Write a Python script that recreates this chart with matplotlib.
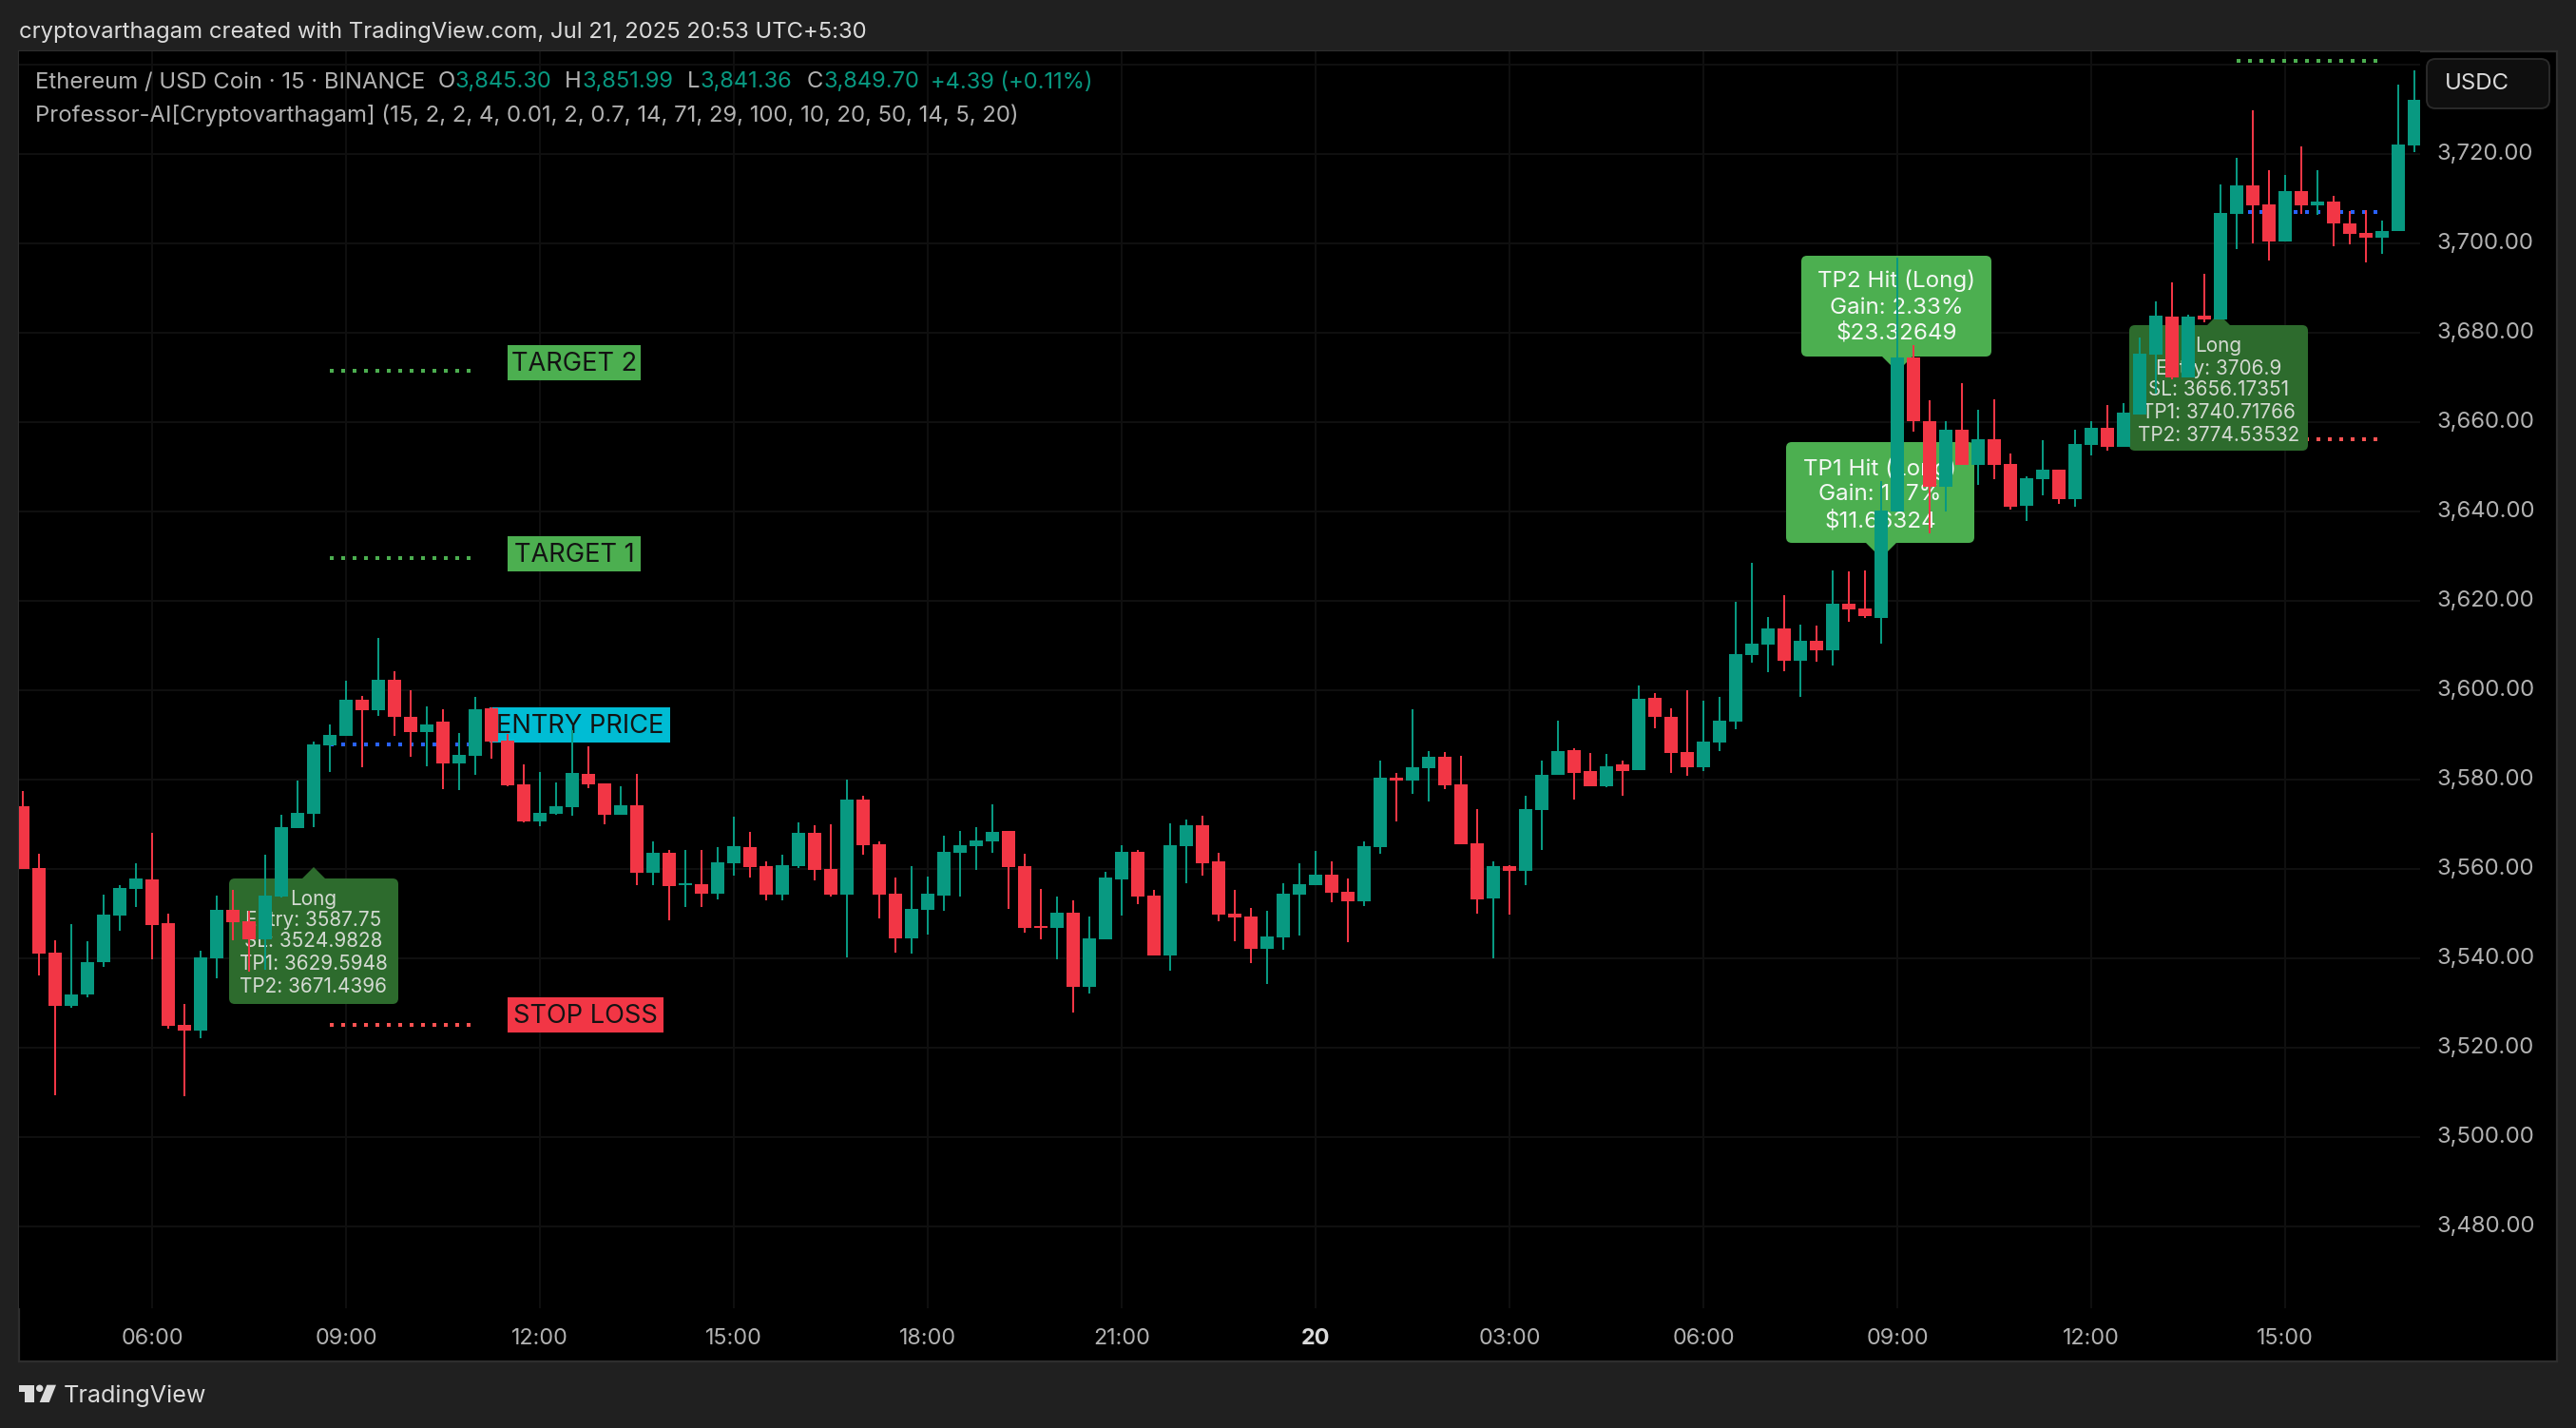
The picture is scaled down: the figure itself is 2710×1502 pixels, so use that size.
import matplotlib
matplotlib.use("Agg")
import matplotlib.pyplot as plt
from matplotlib.patches import Rectangle, Polygon, Circle, FancyBboxPatch
from matplotlib.transforms import Affine2D
import numpy as np

W, H = 2710, 1502
plt.rcParams['font.family'] = ['Inter', 'DejaVu Sans']

opens = [3574.0,3560.1,3541.2,3529.4,3531.8,3539.1,3549.5,3555.5,3557.6,3547.8,
 3525.0,3523.8,3539.9,3550.8,3548.2,3544.2,3553.8,3569.1,3572.3,3587.6,
 3589.7,3597.8,3595.5,3602.3,3594.0,3590.6,3592.9,3583.5,3585.2,3595.9,
 3588.7,3578.9,3570.6,3572.3,3573.8,3581.2,3579.1,3572.1,3574.2,3559.1,
 3563.5,3556.3,3556.5,3554.4,3561.2,3564.8,3560.6,3554.2,3560.6,3568.0,
 3559.9,3554.2,3575.5,3565.5,3554.4,3544.4,3550.8,3554.0,3563.5,3565.0,
 3566.1,3568.4,3560.6,3547.2,3546.7,3550.1,3533.5,3544.2,3557.6,3563.8,
 3554.0,3540.6,3565.0,3569.7,3561.6,3549.9,3549.3,3542.1,3544.6,3554.2,
 3556.3,3558.7,3554.8,3552.7,3564.8,3580.4,3579.7,3582.5,3585.0,3578.9,
 3565.7,3553.3,3560.6,3559.5,3573.1,3581.0,3586.5,3581.8,3578.4,3583.3,
 3582.1,3598.2,3594.0,3586.1,3582.7,3588.2,3592.9,3607.8,3610.1,3613.8,
 3606.5,3611.0,3608.9,3619.3,3618.2,3616.2,3639.9,3674.5,3660.1,3645.4,
 3658.2,3650.3,3656.2,3650.5,3641.3,3647.1,3649.2,3642.6,3654.8,3658.6,
 3654.5,3661.7,3675.1,3683.6,3670.0,3683.8,3683.0,3706.6,3713.0,3708.7,
 3700.4,3711.7,3708.5,3709.4,3704.3,3702.3,3701.3,3702.6,3721.9]
closes = [3560.0,3541.1,3529.4,3531.8,3539.1,3549.7,3555.7,3557.8,3547.4,3524.8,
 3523.8,3540.1,3550.8,3548.0,3544.2,3554.0,3569.3,3572.5,3587.8,3589.9,
 3597.8,3595.5,3602.3,3594.0,3590.6,3592.3,3583.5,3585.5,3595.7,3588.4,
 3578.7,3570.6,3572.5,3574.0,3581.4,3578.9,3572.1,3574.2,3559.1,3563.5,
 3556.1,3556.7,3554.4,3561.4,3565.0,3560.4,3554.2,3560.8,3568.0,3559.7,
 3554.2,3575.5,3565.2,3554.2,3544.4,3551.0,3554.4,3563.8,3565.2,3566.3,
 3568.2,3560.4,3546.7,3546.7,3550.1,3533.5,3544.4,3558.0,3563.8,3553.8,
 3540.6,3565.2,3569.7,3561.2,3549.7,3549.1,3542.1,3544.8,3554.4,3556.5,
 3558.7,3554.6,3552.7,3565.0,3580.4,3579.7,3582.7,3585.0,3578.7,3565.5,
 3553.1,3560.6,3559.5,3573.3,3581.0,3586.3,3581.4,3578.4,3582.9,3581.8,
 3598.0,3594.0,3585.9,3582.7,3588.4,3593.1,3608.0,3610.4,3613.8,3606.5,
 3611.0,3608.9,3619.3,3618.0,3616.5,3640.1,3674.5,3660.1,3645.4,3658.2,
 3650.3,3656.2,3650.3,3641.1,3647.3,3649.2,3642.6,3655.0,3658.6,3654.3,
 3662.0,3675.3,3683.8,3670.0,3683.6,3683.0,3706.8,3713.0,3708.5,3700.4,
 3711.7,3708.5,3709.4,3704.3,3702.1,3701.3,3702.8,3722.1,3732.1]
highs = [3577.4,3563.3,3544.0,3547.6,3543.8,3554.2,3556.3,3561.2,3568.0,3549.9,
 3529.7,3541.6,3554.0,3555.2,3550.6,3563.1,3572.1,3579.7,3588.4,3592.3,
 3602.1,3598.7,3611.6,3604.2,3599.9,3596.3,3595.7,3590.4,3598.4,3596.1,
 3590.1,3583.3,3581.6,3579.3,3591.0,3587.4,3579.1,3578.4,3581.2,3566.1,
 3564.2,3564.2,3564.2,3564.8,3571.6,3568.2,3561.6,3563.1,3570.4,3569.7,
 3569.9,3579.9,3576.3,3566.1,3558.0,3560.6,3558.2,3567.4,3568.4,3569.3,
 3574.4,3568.4,3563.3,3555.5,3553.8,3552.9,3549.3,3559.3,3565.2,3564.2,
 3555.2,3570.1,3571.0,3571.8,3563.5,3555.2,3551.2,3550.6,3556.7,3561.2,
 3564.0,3561.6,3557.8,3566.1,3584.2,3581.4,3595.7,3586.3,3586.1,3585.2,
 3573.3,3561.6,3560.8,3576.3,3584.2,3593.1,3587.0,3585.9,3585.7,3584.2,
 3601.0,3599.3,3595.9,3599.9,3597.6,3598.4,3619.7,3628.4,3616.3,3621.2,
 3614.6,3614.4,3626.7,3626.5,3626.7,3646.7,3696.7,3677.1,3664.8,3660.1,
 3668.6,3662.6,3665.0,3653.0,3647.9,3656.0,3649.2,3658.2,3660.1,3663.7,
 3664.1,3678.9,3687.0,3691.3,3684.0,3693.2,3713.2,3719.1,3729.8,3716.4,
 3715.3,3721.7,3716.4,3710.6,3707.2,3707.4,3705.1,3735.5,3738.7]
lows = [3560.0,3536.1,3509.4,3528.9,3531.2,3538.1,3546.1,3551.4,3539.7,3524.2,
 3509.1,3522.1,3535.5,3544.0,3537.0,3537.4,3553.5,3569.1,3569.3,3581.6,
 3589.7,3582.7,3594.2,3589.7,3585.0,3582.9,3577.8,3577.6,3581.0,3584.6,
 3578.4,3570.4,3569.5,3572.1,3571.8,3578.0,3569.9,3572.1,3556.3,3556.3,
 3548.4,3551.4,3551.4,3553.1,3558.4,3558.0,3552.9,3552.9,3560.1,3557.4,
 3553.8,3540.1,3563.1,3548.9,3541.2,3541.0,3545.2,3550.6,3553.8,3559.7,
 3563.5,3551.0,3545.7,3544.2,3539.7,3527.8,3532.1,3544.2,3549.5,3552.1,
 3540.6,3537.2,3556.7,3558.4,3548.2,3543.8,3538.9,3534.2,3541.8,3545.0,
 3556.3,3552.5,3543.5,3551.6,3563.3,3570.6,3576.7,3575.0,3577.8,3565.5,
 3549.9,3539.9,3549.7,3556.3,3564.2,3581.0,3575.5,3578.4,3578.2,3576.3,
 3582.1,3591.4,3581.4,3580.8,3581.8,3586.3,3591.2,3606.1,3604.0,3604.2,
 3598.4,3606.3,3605.5,3615.2,3616.1,3610.3,3639.9,3657.9,3635.0,3639.9,
 3650.3,3645.8,3647.1,3640.3,3637.9,3643.5,3641.6,3640.9,3652.4,3653.5,
 3654.5,3661.7,3666.3,3669.6,3670.0,3682.3,3683.0,3698.7,3700.0,3696.2,
 3700.4,3706.6,3706.4,3699.4,3699.8,3695.7,3697.7,3702.6,3720.4]

price_ticks = [3480, 3500, 3520, 3540, 3560, 3580, 3600, 3620, 3640, 3660, 3680, 3700, 3720, 3740]
price_labels = ['3,480.00','3,500.00','3,520.00','3,540.00','3,560.00','3,580.00','3,600.00',
                '3,620.00','3,640.00','3,660.00','3,680.00','3,700.00','3,720.00','']
time_ticks = [8, 20, 32, 44, 56, 68, 80, 92, 104, 116, 128, 140]
time_labels = ['06:00','09:00','12:00','15:00','18:00','21:00','20','03:00','06:00','09:00','12:00','15:00']

trade1_bars = (19, 28)
trade1_levels = {'entry': 3587.75, 'sl': 3524.9828, 'tp1': 3629.5948, 'tp2': 3671.4396}
trade2_bars = (137, 146)
trade2_levels = {'entry': 3706.9, 'sl': 3656.17351, 'tp1': 3740.71766}

UP, DOWN = '#089981', '#F23645'
BG, PANEL_EDGE, GRID = '#202020', '#2E2E2E', '#0F0F0F'
DARK_BUBBLE, GREEN_BUBBLE, CYAN = '#2D6B2D', '#4CAF50', '#00BCD4'
AXIS_TXT, HEAD_TXT = '#B2B2B2', '#DBDBDB'

px = Affine2D().scale(1, -1).translate(0, H)

fig = plt.figure(figsize=(W / 100, H / 100), dpi=100, facecolor=BG)
fig.add_artist(Rectangle((20, 54), 2670, 1378, transform=px, facecolor='black',
                         edgecolor=PANEL_EDGE, linewidth=1.6, zorder=-1))

L, R, T, B = 20, 2546, 54, 1376
ax = fig.add_axes([L / W, 1 - B / H, (R - L) / W, (B - T) / H], facecolor='black')
ax.set_xlim((L - 24) / 17, (R - 24) / 17)
ax.set_ylim(3600 - (B - 725.7) / 4.7, 3600 + (725.7 - T) / 4.7)
for s in ax.spines.values():
    s.set_visible(False)

ax.set_axisbelow(True)
ax.grid(True, color=GRID, linewidth=1.44)
ax.yaxis.tick_right()
ax.set_yticks(price_ticks, price_labels)
ax.set_xticks(time_ticks, time_labels)
ax.tick_params(axis='y', length=0, pad=12.6, labelsize=17.2, labelcolor=AXIS_TXT)
ax.tick_params(axis='x', length=0, pad=15, labelsize=16.8, labelcolor=AXIS_TXT)
for lab in ax.get_yticklabels():
    lab.set_verticalalignment('center')
for lab in ax.get_xticklabels():
    if lab.get_text() == '20':
        lab.set_fontweight('bold')
        lab.set_color(HEAD_TXT)

# candles
idx = np.arange(len(opens))
o, c, h, l = map(np.array, (opens, closes, highs, lows))
cols = np.where(c >= o, UP, DOWN)
ax.vlines(idx, l, h, colors=cols, linewidth=1.44, zorder=4)
ax.bar(idx, np.abs(c - o), bottom=np.minimum(o, c), width=14.2 / 17, color=cols, linewidth=0, zorder=4.1)

# dotted level lines
def dots(bars, level, color):
    ax.plot(bars, [level, level], color=color, linewidth=2.88,
            linestyle=(0, (1, 2)), dash_capstyle='butt', zorder=1.5)

dots(trade1_bars, trade1_levels['tp2'], GREEN_BUBBLE)
dots(trade1_bars, trade1_levels['tp1'], GREEN_BUBBLE)
dots(trade1_bars, trade1_levels['entry'], '#2962FF')
dots(trade1_bars, trade1_levels['sl'], '#FF5252')
dots(trade2_bars, trade2_levels['tp1'], GREEN_BUBBLE)
dots(trade2_bars, trade2_levels['entry'], '#2962FF')
dots(trade2_bars, trade2_levels['sl'], '#FF5252')

# bubbles
def bubble(x0, y0, x1, y1, ax_c, base, tip_y, color, lines, ys, size, tcolor):
    ax.add_patch(FancyBboxPatch((x0, y0), x1 - x0, y1 - y0, boxstyle='round,pad=0,rounding_size=6',
                                transform=px, facecolor=color, edgecolor='none', zorder=2))
    edge = y1 if tip_y > y1 else y0
    ax.add_patch(Polygon([(ax_c - base, edge), (ax_c + base, edge), (ax_c, tip_y)], closed=True,
                         transform=px, facecolor=color, edgecolor='none', zorder=2))
    for s, y in zip(lines, ys):
        ax.text((x0 + x1) / 2, y + 1.5, s, transform=px, ha='center', va='center', color=tcolor,
                fontsize=size, zorder=3)

bubble(241, 924, 419, 1056, 330, 12, 912, DARK_BUBBLE,
       ['Long', 'Entry: 3587.75', 'SL: 3524.9828', 'TP1: 3629.5948', 'TP2: 3671.4396'],
       [944, 967, 989, 1013, 1036], 14.9, '#D4DAD2')
bubble(2240, 342, 2428, 474, 2334, 12, 330, DARK_BUBBLE,
       ['Long', 'Entry: 3706.9', 'SL: 3656.17351', 'TP1: 3740.71766', 'TP2: 3774.53532'],
       [363, 387, 409, 432, 457], 14.9, '#D4DAD2')
bubble(1895, 269, 2095, 375, 1996, 16, 391, GREEN_BUBBLE,
       ['TP2 Hit (Long)', 'Gain: 2.33%', '$23.32649'], [294, 322, 349], 17.4, '#F4F8F4')
bubble(1879, 465, 2077, 571, 1979, 16, 587, GREEN_BUBBLE,
       ['TP1 Hit (Long)', 'Gain: 1.17%', '$11.66324'], [492, 519, 547], 17.4, '#F4F8F4')

# legend tags
def tag(x0, x1, y0, y1, color, s):
    ax.add_patch(Rectangle((x0, y0), x1 - x0, y1 - y0, transform=px, facecolor=color, edgecolor='none', zorder=2))
    ax.text((x0 + x1) / 2, (y0 + y1) / 2 + 1.5, s, transform=px, ha='center', va='center',
            color='#131313', fontsize=19.6, zorder=3)

tag(534, 674, 363, 400, GREEN_BUBBLE, 'TARGET 2')
tag(534, 674, 564, 601, GREEN_BUBBLE, 'TARGET 1')
tag(515, 705, 744, 781, CYAN, 'ENTRY PRICE')
tag(534, 698, 1049, 1086, DOWN, 'STOP LOSS')

# header and status lines
def t(x, y, s, color=AXIS_TXT, size=17.17, **kw):
    fig.text(x, y, s, transform=px, color=color, fontsize=size, va='center', ha=kw.pop('ha', 'left'), **kw)

t(20, 34, 'cryptovarthagam created with TradingView.com, Jul 21, 2025 20:53 UTC+5:30', HEAD_TXT)
t(37, 86.5, 'Ethereum / USD Coin · 15 · BINANCE')
t(461, 86.5, 'O'); t(478, 86.5, '3,845.30', UP, 17)
t(594, 86.5, 'H'); t(612, 86.5, '3,851.99', UP, 17)
t(723, 86.5, 'L'); t(737, 86.5, '3,841.36', UP, 17)
t(849, 86.5, 'C'); t(866, 86.5, '3,849.70', UP, 17)
t(979, 86.5, '+4.39 (+0.11%)', UP, 17)
t(37, 121.5, 'Professor-AI[Cryptovarthagam] (15, 2, 2, 4, 0.01, 2, 0.7, 14, 71, 29, 100, 10, 20, 50, 14, 5, 20)')

# currency button
fig.add_artist(FancyBboxPatch((2553, 62), 129, 52, boxstyle='round,pad=0,rounding_size=9', transform=px,
                              facecolor='#0F0F0F', edgecolor='#2A2A2A', linewidth=1.4))
t(2572, 88.5, 'USDC', HEAD_TXT, size=17.3)

# footer logo
fig.add_artist(Polygon([(20, 1456.7), (36, 1456.7), (36, 1475), (26, 1475), (26, 1464), (20, 1464)],
                       closed=True, transform=px, facecolor=HEAD_TXT, edgecolor='none'))
fig.add_artist(Circle((41.7, 1460.3), 3.7, transform=px, facecolor=HEAD_TXT, edgecolor='none'))
fig.add_artist(Polygon([(49.3, 1456.7), (59, 1456.7), (51.7, 1475), (41.7, 1475)],
                       closed=True, transform=px, facecolor=HEAD_TXT, edgecolor='none'))
t(67, 1468.5, 'TradingView', HEAD_TXT, size=18.1)

fig.savefig('out.png', dpi=100, facecolor=BG)
